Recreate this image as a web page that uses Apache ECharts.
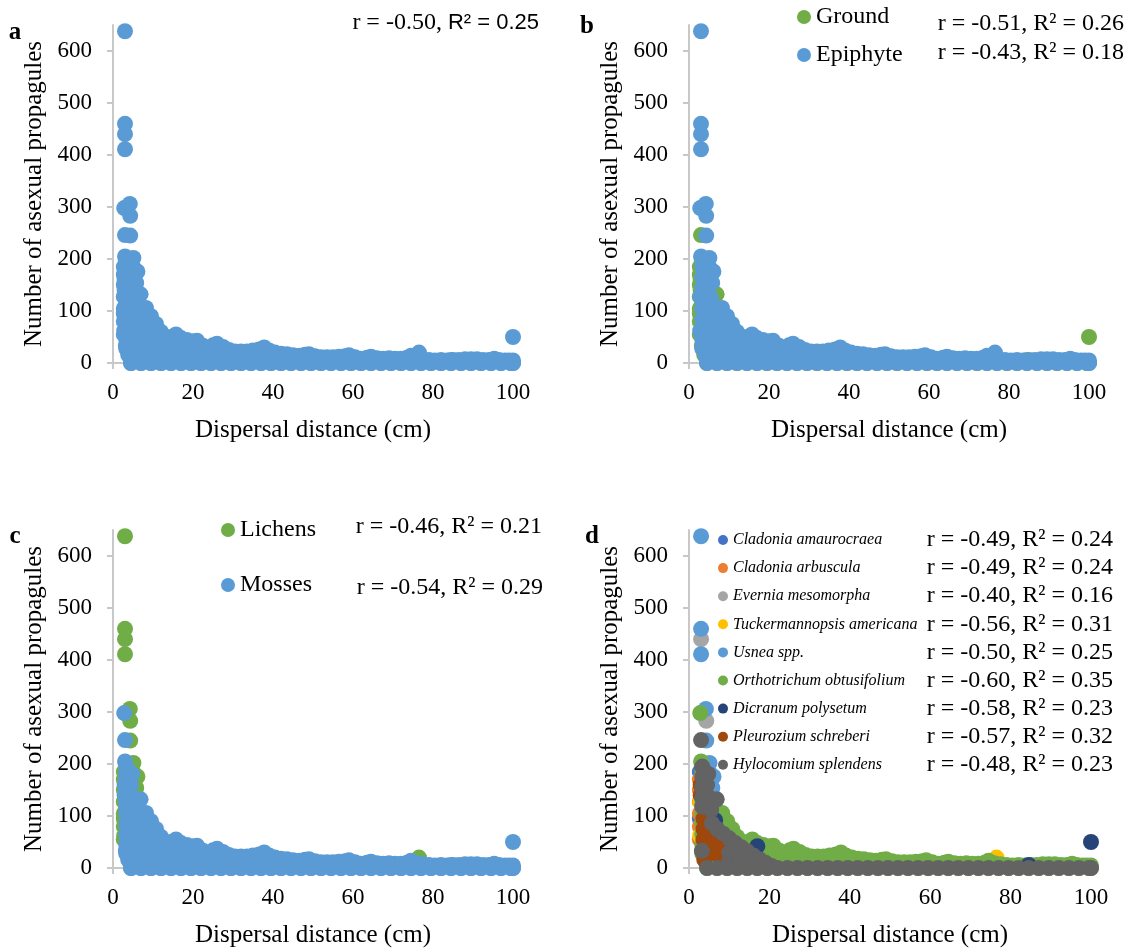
<!DOCTYPE html>
<html>
<head>
<meta charset="utf-8">
<script src="https://cdn.jsdelivr.net/npm/echarts@6/dist/echarts.min.js"></script>
</head>
<body style="margin:0;background:#fff">
<div id="chart" style="width:1130px;height:949px"></div>
<script>
// species, colours (Excel palette) and grouping
var species = ['Cladonia amaurocraea', 'Cladonia arbuscula', 'Evernia mesomorpha',
  'Tuckermannopsis americana', 'Usnea spp.', 'Orthotrichum obtusifolium',
  'Dicranum polysetum', 'Pleurozium schreberi', 'Hylocomium splendens'];
var speciesColors = ['#4472C4', '#ED7D31', '#A5A5A5', '#FFC000', '#5B9BD5',
  '#70AD47', '#264478', '#9E480E', '#636363'];
var isLichen = [1, 1, 1, 1, 1, 0, 0, 0, 0];
var isGround = [1, 1, 0, 0, 0, 0, 1, 1, 1];

var rSpecies = ['r = -0.49, R\u00b2 = 0.24', 'r = -0.49, R\u00b2 = 0.24', 'r = -0.40, R\u00b2 = 0.16',
  'r = -0.56, R\u00b2 = 0.31', 'r = -0.50, R\u00b2 = 0.25', 'r = -0.60, R\u00b2 = 0.35',
  'r = -0.58, R\u00b2 = 0.23', 'r = -0.57, R\u00b2 = 0.32', 'r = -0.48, R\u00b2 = 0.23'];
var rHabitat = ['r = -0.51, R\u00b2 = 0.26', 'r = -0.43, R\u00b2 = 0.18'];
var rGroup = ['r = -0.46, R\u00b2 = 0.21', 'r = -0.54, R\u00b2 = 0.29'];

var xTicks = [0, 20, 40, 60, 80, 100];
var yTicks = [0, 100, 200, 300, 400, 500, 600];

// observations per species: [distance, count, count, ...]
var cladoniaAmaurocraea = [[2.7, 185, 95]];
var cladoniaArbuscula = [[2.7, 170, 150, 128, 105, 80, 55]];
var everniaMesomorpha = [[3, 440], [4.3, 283]];
var tuckermannopsis = [[2.8, 127, 62], [76.5, 20]];
var usnea = [[3, 638, 460, 411], [4.2, 306], [4.3, 245], [5.1, 202], [5, 185],
  [5.3, 165], [4.6, 140], [6.1, 176], [5.8, 154]];
var orthotrichum = [
  [2.8, 298], [3, 205],
  [3.3, 185, 165, 145, 125, 105, 85, 65, 45, 28],
  [4.2, 130, 110, 90, 70, 50, 30, 12],
  [5.5, 125, 105, 85, 65, 45, 25, 5],
  [7, 95, 78, 60, 42, 25, 8],
  [8.25, 106, 88, 70, 52, 35, 18],
  [9.5, 90, 75, 60, 45, 30, 15],
  [10.75, 75, 58, 40, 22, 5],
  [12, 60, 45, 30, 15],
  [13, 50, 35, 20, 5],
  [14.5, 50, 35, 20, 5],
  [15.75, 55, 40, 25, 10],
  [17, 48, 33, 18, 3],
  [18.5, 44, 29, 14],
  [20, 42, 27, 12],
  [21, 43, 28, 13],
  [22.5, 33, 18, 3],
  [23.5, 28, 13],
  [25, 34, 19, 4],
  [26, 37, 22, 7],
  [27.5, 31, 16],
  [29, 25, 10],
  [30.5, 22, 7],
  [32, 22, 7],
  [33.5, 22, 7],
  [35, 24, 9],
  [36.5, 26, 11],
  [37.8, 30, 15],
  [39, 24, 9],
  [40.5, 20, 5],
  [42, 18, 3],
  [43.5, 17], [45, 15], [46.5, 14], [48, 16], [49, 17], [50.5, 13], [52, 11],
  [53.5, 11], [55, 11], [56.5, 12], [58, 13], [59, 15], [60.5, 11], [62, 8],
  [63.5, 10], [64.5, 12], [66, 9], [67.5, 8], [69, 9], [70.5, 8], [72, 8],
  [73.5, 10], [74.5, 14], [76, 9], [77.5, 7], [79, 6], [80.5, 5], [82, 6],
  [83.5, 5], [85, 6], [86.5, 6], [88, 7], [89.5, 7], [91, 7], [92.5, 6],
  [94, 6], [95.3, 8], [96.5, 6], [98, 5], [99, 5], [100, 5]
];
var dicranum = [[5.5, 100], [6.5, 92], [17, 42], [84.5, 6], [100, 50]];
var pleurozium = [[2.9, 160, 140], [3.6, 95, 75, 55], [3.8, 16], [4.8, 62], [5, 40],
  [6.5, 28], [6.8, 48], [8, 22], [8.3, 38], [9.3, 15]];
var hylocomium = [[3, 246], [3.3, 195, 175, 155, 135, 118], [3.2, 33], [4, 118],
  [4.5, 160, 140], [4.8, 181], [5.5, 112], [5.7, 86], [6.9, 132], [7, 75], [8.5, 66],
  [10, 57, 30, 12], [11.5, 48], [12.5, 22, 6], [13, 40], [14.5, 32], [15, 12], [16, 24],
  [17.5, 17, 3], [19, 10], [20.5, 4]];
// distances where Orthotrichum and Hylocomium had zero propagules
var zeroRowX = [4.5, 7, 9.5, 12, 14.5, 17, 19.5, 22, 24.5, 27, 29.5, 32, 34.5, 37,
  39.5, 42, 44.5, 47, 49.5, 52, 54.5, 57, 59.5, 62, 64.5, 67, 69.5, 72, 74.5, 77,
  79.5, 82, 84.5, 87, 89.5, 92, 94.5, 97, 99.5, 100];

function unpack(cols) {
  var pts = [];
  cols.forEach(function (c) {
    for (var i = 1; i < c.length; i++) pts.push([c[0], c[i]]);
  });
  return pts;
}
function zeros(xs) {
  return xs.map(function (x) { return [x, 0]; });
}

var speciesPoints = [
  unpack(cladoniaAmaurocraea),
  unpack(cladoniaArbuscula),
  unpack(everniaMesomorpha),
  unpack(tuckermannopsis),
  unpack(usnea),
  unpack(orthotrichum).concat(zeros(zeroRowX)),
  unpack(dicranum),
  unpack(pleurozium),
  unpack(hylocomium).concat(zeros(zeroRowX))
];

function pick(test) {
  var out = [];
  speciesPoints.forEach(function (p, i) { if (test(i)) out = out.concat(p); });
  return out;
}

var SERIF = 'Liberation Serif';
var AXIS = '#c8c8c8';
var BLUE = '#5B9BD5';
var GREEN = '#70AD47';

var grids = [
  { left: 113, top: 25, width: 400, height: 338 },
  { left: 689, top: 25, width: 400, height: 338 },
  { left: 113, top: 530, width: 400, height: 338 },
  { left: 689, top: 530, width: 402, height: 338 }
];

function xAxis(i) {
  return {
    gridIndex: i, type: 'value', min: 0, max: 100, interval: 20,
    name: 'Dispersal distance (cm)', nameLocation: 'middle', nameGap: 55,
    nameTextStyle: { fontFamily: SERIF, fontSize: 25, color: '#000' },
    axisLine: { lineStyle: { color: AXIS, width: 2 } },
    axisTick: { show: true, length: 6, customValues: xTicks, lineStyle: { color: AXIS, width: 2 } },
    axisLabel: { margin: 18, fontFamily: SERIF, fontSize: 23, color: '#000', customValues: xTicks },
    splitLine: { show: false }
  };
}
function yAxis(i) {
  return {
    gridIndex: i, type: 'value', min: 0, max: 650, interval: 100,
    name: 'Number of asexual propagules', nameLocation: 'middle', nameGap: 66,
    nameTextStyle: { fontFamily: SERIF, fontSize: 25, color: '#000' },
    axisLine: { show: true, lineStyle: { color: AXIS, width: 2 } },
    axisTick: { show: true, length: 6, customValues: yTicks, lineStyle: { color: AXIS, width: 2 } },
    axisLabel: { margin: 21, fontFamily: SERIF, fontSize: 23, color: '#000', customValues: yTicks },
    splitLine: { show: false }
  };
}

function scatter(name, idx, color, data) {
  return {
    name: name, type: 'scatter', xAxisIndex: idx, yAxisIndex: idx,
    symbol: 'circle', symbolSize: 16, clip: false, silent: true,
    itemStyle: { color: color, opacity: 1 },
    data: data
  };
}

var series = [
  scatter('All', 0, BLUE, pick(function () { return true; })),
  scatter('Ground', 1, GREEN, pick(function (i) { return isGround[i]; })),
  scatter('Epiphyte', 1, BLUE, pick(function (i) { return !isGround[i]; })),
  scatter('Lichens', 2, GREEN, pick(function (i) { return isLichen[i]; })),
  scatter('Mosses', 2, BLUE, pick(function (i) { return !isLichen[i]; }))
];
species.forEach(function (s, i) {
  series.push(scatter(s, 3, speciesColors[i], speciesPoints[i]));
});

function legend(names, left, top, size, font, gap, italic) {
  return {
    data: names, orient: 'vertical', left: left, top: top, padding: 0,
    itemGap: gap, itemWidth: size, itemHeight: size, icon: 'circle',
    selectedMode: false,
    textStyle: { fontFamily: SERIF, fontSize: font, lineHeight: font, color: '#000',
      fontStyle: italic ? 'italic' : 'normal' }
  };
}

function label(text, x, y, size, extra) {
  var st = { text: text, x: 0, y: 0, fill: '#000', font: size + 'px "' + SERIF + '"',
    align: 'right', verticalAlign: 'middle' };
  if (extra) for (var k in extra) st[k] = extra[k];
  return { type: 'text', x: x, y: y, silent: true, style: st };
}

var graphics = [
  label('a', 15, 33, 25, { align: 'center', font: 'bold 25px "' + SERIF + '"' }),
  label('b', 587, 27, 25, { align: 'center', font: 'bold 25px "' + SERIF + '"' }),
  label('c', 15, 537, 25, { align: 'center', font: 'bold 25px "' + SERIF + '"' }),
  label('d', 592, 537, 25, { align: 'center', font: 'bold 25px "' + SERIF + '"' }),
  {
    type: 'text', x: 539, y: 23, silent: true,
    style: {
      text: '{s|r = -0.50, }{c|R\u00b2 = 0.25}', align: 'right', verticalAlign: 'middle',
      rich: {
        s: { fontFamily: SERIF, fontSize: 24, fill: '#000' },
        c: { fontFamily: 'Liberation Sans', fontSize: 22, fill: '#000' }
      }
    }
  },
  label(rHabitat[0], 1124, 24, 24),
  label(rHabitat[1], 1124, 53, 24),
  label(rGroup[0], 542, 527, 24),
  label(rGroup[1], 543, 588, 24)
];
rSpecies.forEach(function (t, i) {
  graphics.push(label(t, 1113, 540 + i * 28.1, 24));
});

var chart = echarts.init(document.getElementById('chart'));
chart.setOption({
  animation: false,
  backgroundColor: '#fff',
  grid: grids,
  xAxis: [xAxis(0), xAxis(1), xAxis(2), xAxis(3)],
  yAxis: [yAxis(0), yAxis(1), yAxis(2), yAxis(3)],
  legend: [
    legend(['Ground', 'Epiphyte'], 797, 5, 14, 24, 14, false),
    legend(['Lichens', 'Mosses'], 221, 518, 14, 24, 31, false),
    legend(species, 718, 532, 10, 16, 12.1, true)
  ],
  graphic: graphics,
  series: series
});
</script>
</body>
</html>
